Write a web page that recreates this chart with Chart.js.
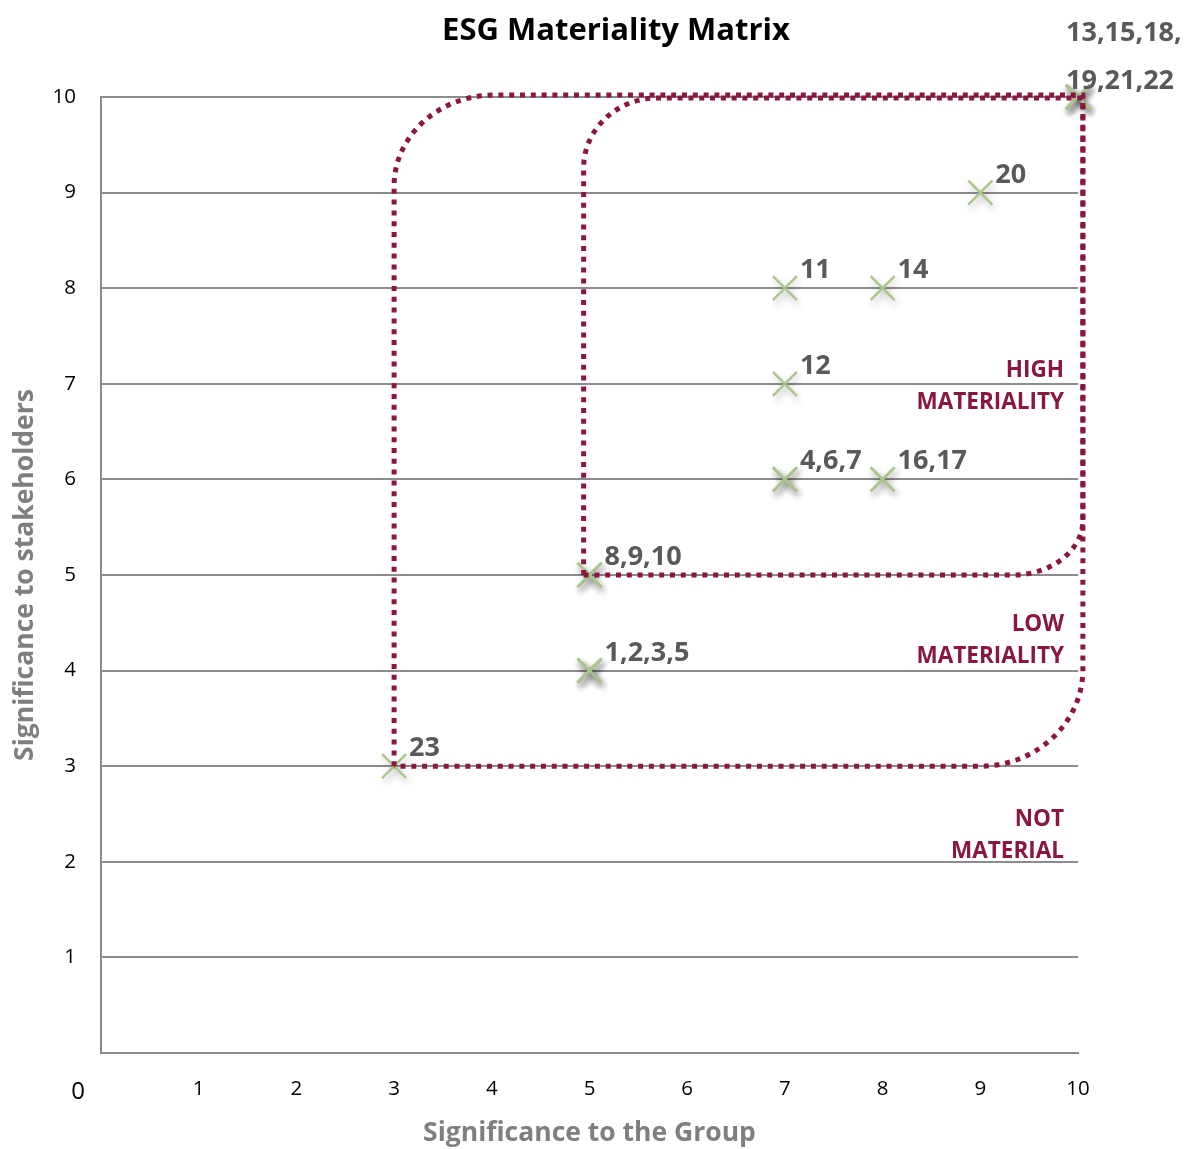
<!DOCTYPE html>
<html>
<head>
<meta charset="utf-8">
<title>ESG Materiality Matrix</title>
<script src="https://cdn.jsdelivr.net/npm/chart.js@4/dist/chart.umd.min.js"></script>
<style>
  html, body { margin: 0; padding: 0; background: #ffffff; }
  #wrap { width: 1197px; height: 1149px; position: relative; }
</style>
</head>
<body>
<div id="wrap"><canvas id="matrix" width="1197" height="1149"></canvas></div>
<script>
// Material issues, numbered 1–23, with their two scores.
const issueIds = [1, 2, 3, 4, 5, 6, 7, 8, 9, 10, 11, 12, 13, 14, 15, 16, 17, 18, 19, 20, 21, 22, 23];
const groupScores = [5, 5, 5, 7, 5, 7, 7, 5, 5, 5, 7, 7, 10, 8, 10, 8, 8, 10, 10, 9, 10, 10, 3];
const stakeholderScores = [4, 4, 4, 6, 4, 6, 6, 5, 5, 5, 8, 7, 10, 8, 10, 6, 6, 10, 10, 9, 10, 10, 3];

// Axis ticks.
const tickValues = [0, 1, 2, 3, 4, 5, 6, 7, 8, 9, 10];

// Materiality zones (score bounds).
const zoneOuter = { left: 3, bottom: 3, right: 10.05, top: 10.02 };
const zoneInner = { left: 4.94, bottom: 5, right: 10.05, top: 9.99 };
const zoneNames = [['HIGH', 'MATERIALITY'], ['LOW', 'MATERIALITY'], ['NOT', 'MATERIAL']];
const zoneNameLevels = [6.97, 4.31, 2.27];

const FONT = "'Open Sans', 'DejaVu Sans', sans-serif";
const MAROON = '#8a1741';
const LABEL_GREY = '#595959';
const AXIS_GREY = '#7f7f7f';

// Group issues that share the same position so each spot carries one label.
const spots = [];
issueIds.forEach((id, i) => {
  const gx = groupScores[i], gy = stakeholderScores[i];
  let s = spots.find(p => p.x === gx && p.y === gy);
  if (!s) { s = { x: gx, y: gy, ids: [] }; spots.push(s); }
  s.ids.push(id);
});

const points = issueIds.map((id, i) => ({ x: groupScores[i], y: stakeholderScores[i] }));

// Soft drop shadow under the markers.
const markerShadow = {
  id: 'markerShadow',
  beforeDatasetDraw(chart) {
    const ctx = chart.ctx;
    ctx.save();
    ctx.shadowColor = 'rgba(0,0,0,0.28)';
    ctx.shadowBlur = 7;
    ctx.shadowOffsetX = 2;
    ctx.shadowOffsetY = 4;
  },
  afterDatasetDraw(chart) {
    chart.ctx.restore();
  }
};

function roundedZone(ctx, x, y, z, tl, br) {
  const L = x.getPixelForValue(z.left), R = x.getPixelForValue(z.right);
  const T = y.getPixelForValue(z.top), B = y.getPixelForValue(z.bottom);
  const k = 0.5523;
  ctx.beginPath();
  ctx.moveTo(L, B);
  ctx.lineTo(L, T + tl[1]);
  ctx.bezierCurveTo(L, T + tl[1] * (1 - k), L + tl[0] * (1 - k), T, L + tl[0], T);
  ctx.lineTo(R, T);
  ctx.lineTo(R, B - br[1]);
  ctx.bezierCurveTo(R, B - br[1] * (1 - k), R - br[0] * (1 - k), B, R - br[0], B);
  ctx.lineTo(L, B);
  ctx.stroke();
}

const zonesAndLabels = {
  id: 'zonesAndLabels',
  afterDatasetsDraw(chart) {
    const { ctx, scales: { x, y } } = chart;
    ctx.save();
    // dotted zone outlines
    ctx.strokeStyle = MAROON;
    ctx.lineWidth = 5;
    ctx.setLineDash([5, 5.8]);
    ctx.lineCap = 'butt';
    roundedZone(ctx, x, y, zoneOuter, [100, 91], [103, 97]);
    roundedZone(ctx, x, y, zoneInner, [74, 70], [70, 55]);
    ctx.setLineDash([]);

    // zone names, right aligned inside the plot
    ctx.fillStyle = MAROON;
    ctx.font = `bold 22.5px ${FONT}`;
    ctx.textAlign = 'right';
    ctx.textBaseline = 'middle';
    const nx = x.getPixelForValue(10) - 14;
    zoneNames.forEach((lines, i) => {
      const cy = y.getPixelForValue(zoneNameLevels[i]);
      ctx.fillText(lines[0], nx, cy - 16);
      ctx.fillText(lines[1], nx, cy + 16);
    });

    // issue numbers next to each marker
    ctx.fillStyle = LABEL_GREY;
    ctx.font = `bold 27px ${FONT}`;
    ctx.textAlign = 'left';
    ctx.textBaseline = 'alphabetic';
    spots.forEach(s => {
      const px = x.getPixelForValue(s.x), py = y.getPixelForValue(s.y);
      if (s.ids.length > 4) {
        const first = s.ids.slice(0, 3).join(',') + ',';
        const rest = s.ids.slice(3).join(',');
        ctx.fillText(first, px - 12, py - 56);
        ctx.fillText(rest, px - 12, py - 8);
      } else {
        ctx.fillText(s.ids.join(','), px + 15, py - 10);
      }
    });

    ctx.restore();
  },
  afterDraw(chart) {
    const { ctx, chartArea } = chart;
    ctx.save();
    // chart title
    ctx.fillStyle = '#000000';
    ctx.font = `bold 31px ${FONT}`;
    ctx.textAlign = 'center';
    ctx.textBaseline = 'alphabetic';
    ctx.fillText('ESG Materiality Matrix', 616, 40);

    // axis titles
    ctx.fillStyle = AXIS_GREY;
    ctx.font = `bold 26.5px ${FONT}`;
    ctx.fillText('Significance to the Group', (chartArea.left + chartArea.right) / 2, 1141);
    ctx.save();
    ctx.translate(33, (chartArea.top + chartArea.bottom) / 2);
    ctx.rotate(-Math.PI / 2);
    ctx.fillText('Significance to stakeholders', 0, 0);
    ctx.restore();

    // shared origin label
    ctx.fillStyle = '#000000';
    ctx.font = `24px ${FONT}`;
    ctx.textBaseline = 'middle';
    ctx.fillText(String(tickValues[0]), 78, 1092);
    ctx.restore();
  }
};

new Chart(document.getElementById('matrix'), {
  type: 'scatter',
  data: {
    datasets: [{
      label: 'Issues',
      data: points,
      pointStyle: 'crossRot',
      pointRadius: 17,
      pointHoverRadius: 17,
      borderColor: '#abc68c',
      backgroundColor: '#abc68c',
      pointBorderWidth: 2.5,
      borderWidth: 2.5,
      clip: false
    }]
  },
  options: {
    responsive: false,
    animation: false,
    events: [],
    layout: { padding: { top: 97, right: 119, left: 0, bottom: 0 } },
    plugins: {
      legend: { display: false },
      tooltip: { enabled: false },
      title: { display: false }
    },
    scales: {
      x: {
        type: 'linear',
        min: tickValues[0],
        max: tickValues[tickValues.length - 1],
        afterFit: s => { s.height = 96; },
        afterBuildTicks: s => { s.ticks = tickValues.map(v => ({ value: v })); },
        ticks: {
          padding: 24,
          color: '#000000',
          font: { family: FONT, size: 20.5 },
          callback: v => (v === 0 ? '' : v)
        },
        grid: { display: false, drawTicks: false },
        border: { display: true, color: '#8a8a8a', width: 2 }
      },
      y: {
        type: 'linear',
        min: tickValues[0],
        max: tickValues[tickValues.length - 1],
        afterFit: s => { s.width = 101; },
        afterBuildTicks: s => { s.ticks = tickValues.map(v => ({ value: v })); },
        ticks: {
          padding: 25,
          color: '#000000',
          font: { family: FONT, size: 20.5 },
          callback: v => (v === 0 ? '' : v)
        },
        grid: { color: '#8c8c8c', lineWidth: 2, drawTicks: false },
        border: { display: true, color: '#8a8a8a', width: 2 }
      }
    }
  },
  plugins: [markerShadow, zonesAndLabels]
});
</script>
</body>
</html>
